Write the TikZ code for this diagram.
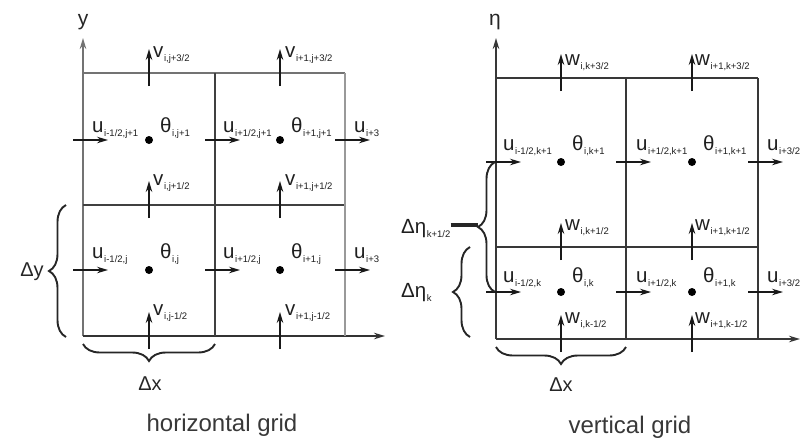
\documentclass[tikz,border=0pt]{standalone}
\usepackage{fontspec}
\setmainfont{Liberation Sans}
\usetikzlibrary{arrows.meta,decorations.pathreplacing}
\newcommand{\sv}[2]{#1\kern0.6pt\raisebox{-4pt}{\fontsize{9.5}{9.5}\selectfont #2}}
\newcommand{\hvec}[3]{\coordinate (#1s) at (#2-10,#3); \coordinate (#1e) at (#2+25,#3); \draw[vec] (#1s) -- (#1e);}
\newcommand{\vvec}[3]{\coordinate (#1s) at (#2,#3+13); \coordinate (#1e) at (#2,#3-24); \draw[vec] (#1s) -- (#1e);}
\begin{document}
\begin{tikzpicture}[x=1pt,y=-1pt,
  vec/.style={-{Stealth[length=11pt,width=6.5pt]}, line width=1.3pt, draw=black!90},
  axisL/.style={-{Stealth[length=11pt,width=6.5pt]}, line width=2.4pt, draw=black!55},
  outerL/.style={line width=2.6pt, draw=black!55},
  innerL/.style={line width=1.8pt, draw=black!75},
  thinL/.style={line width=1.1pt, draw=black!40},
  bottomL/.style={-{Stealth[length=11pt,width=6.5pt]}, line width=1.8pt, draw=black!80},
  gridR/.style={line width=2.2pt, draw=black!78},
  axisR/.style={-{Stealth[length=11pt,width=6.5pt]}, line width=2.2pt, draw=black!78},
  lab/.style={font=\fontsize{20.5}{20.5}\selectfont, inner sep=0pt, anchor=base west, text=black!88},
  dot/.style={circle, fill=black, inner sep=0pt, minimum size=8pt},
  brace/.style={decorate, decoration={brace, amplitude=17pt}, line width=1.9pt, draw=black!85},
  captext/.style={font=\fontsize{24}{24}\selectfont, text=black!78, inner sep=0pt}
]
\useasboundingbox (0,0) rectangle (800,440);

% ================= horizontal grid =================
\coordinate (LA) at (83,336);
\coordinate (LYt) at (83,38);
\coordinate (LXr) at (385,336);
\coordinate (LT1) at (83,73);
\coordinate (LT2) at (215,73);
\coordinate (LT3) at (345,73);
\coordinate (LM1) at (83,205);
\coordinate (LM3) at (345,205);
\coordinate (LB2) at (215,336);
\coordinate (LB3) at (345,336);

\draw[axisL] (LA) -- (LYt);
\draw[bottomL] (LA) -- (LXr);
\draw[outerL] (LT1) -- (LT3);
\draw[innerL] (LM1) -- (LM3);
\draw[innerL] (LT2) -- (LB2);
\draw[thinL] (LT3) -- (LB3);
\node[font=\fontsize{21}{21}\selectfont, text=black!85] (ylab) at (83,22) {y};

% u vectors
\hvec{lu11}{83}{140}
\hvec{lu21}{215}{140}
\hvec{lu31}{345}{140}
\hvec{lu10}{83}{270}
\hvec{lu20}{215}{270}
\hvec{lu30}{345}{270}
% v vectors
\vvec{lv13}{149}{73}
\vvec{lv23}{280}{73}
\vvec{lv12}{149}{205}
\vvec{lv22}{280}{205}
\vvec{lv11}{149}{336}
\vvec{lv21}{280}{336}
% theta dots
\node[dot] (ld11) at (149,140) {};
\node[dot] (ld21) at (280,140) {};
\node[dot] (ld10) at (149,270) {};
\node[dot] (ld20) at (280,270) {};

% labels
\node[lab] (tlu11) at (92,132) {\sv{u}{i-1/2,j+1}};
\node[lab] (tlu21) at (223,132) {\sv{u}{i+1/2,j+1}};
\node[lab] (tlu31) at (354,132) {\sv{u}{i+3}};
\node[lab] (tlu10) at (92,258) {\sv{u}{i-1/2,j}};
\node[lab] (tlu20) at (223,258) {\sv{u}{i+1/2,j}};
\node[lab] (tlu30) at (354,258) {\sv{u}{i+3}};
\node[lab] (tlt11) at (160,132) {\sv{θ}{i,j+1}};
\node[lab] (tlt21) at (291,132) {\sv{θ}{i+1,j+1}};
\node[lab] (tlt10) at (160,258) {\sv{θ}{i,j}};
\node[lab] (tlt20) at (291,258) {\sv{θ}{i+1,j}};
\node[lab] (tlv13) at (153,57) {\sv{v}{i,j+3/2}};
\node[lab] (tlv23) at (285,57) {\sv{v}{i+1,j+3/2}};
\node[lab] (tlv12) at (153,185) {\sv{v}{i,j+1/2}};
\node[lab] (tlv22) at (285,185) {\sv{v}{i+1,j+1/2}};
\node[lab] (tlv11) at (153,315) {\sv{v}{i,j-1/2}};
\node[lab] (tlv21) at (285,315) {\sv{v}{i+1,j-1/2}};

% braces
\coordinate (bLy1) at (66,337);
\coordinate (bLy2) at (66,205);
\draw[brace] (bLy1) -- (bLy2);
\node[font=\fontsize{20}{20}\selectfont, text=black!85] (dy) at (32,272) {Δy};
\coordinate (bLx1) at (215,344);
\coordinate (bLx2) at (83,344);
\draw[brace] (bLx1) -- (bLx2);
\node[font=\fontsize{20}{20}\selectfont, text=black!85] (dxl) at (150,384) {Δx};
\node[captext] (capL) at (222,425) {horizontal grid};

% ================= vertical grid =================
\coordinate (RA) at (496,339);
\coordinate (RYt) at (496,38);
\coordinate (RXr) at (800,339);
\coordinate (RT1) at (496,78);
\coordinate (RT2) at (626,78);
\coordinate (RT3) at (758,78);
\coordinate (RM1) at (496,247);
\coordinate (RM3) at (758,247);
\coordinate (RB2) at (626,339);
\coordinate (RB3) at (758,339);

\draw[axisR] (RA) -- (RYt);
\draw[axisR] (RA) -- (RXr);
\draw[gridR] (RT1) -- (RT3);
\draw[gridR] (RM1) -- (RM3);
\draw[gridR] (RT2) -- (RB2);
\draw[gridR] (RT3) -- (RB3);
\node[font=\fontsize{21}{21}\selectfont, text=black!85] (etalab) at (495,22) {η};

\hvec{ru11}{496}{162}
\hvec{ru21}{626}{162}
\hvec{ru31}{758}{162}
\hvec{ru10}{496}{292}
\hvec{ru20}{626}{292}
\hvec{ru30}{758}{292}
\vvec{rw13}{561}{78}
\vvec{rw23}{692}{78}
\vvec{rw12}{561}{247}
\vvec{rw22}{692}{247}
\vvec{rw11}{561}{339}
\vvec{rw21}{692}{339}
\node[dot] (rd11) at (561,162) {};
\node[dot] (rd21) at (692,162) {};
\node[dot] (rd10) at (561,292) {};
\node[dot] (rd20) at (692,292) {};

\node[lab] (tru11) at (503,150) {\sv{u}{i-1/2,k+1}};
\node[lab] (tru21) at (636,150) {\sv{u}{i+1/2,k+1}};
\node[lab] (tru31) at (767,150) {\sv{u}{i+3/2}};
\node[lab] (tru10) at (503,282) {\sv{u}{i-1/2,k}};
\node[lab] (tru20) at (636,282) {\sv{u}{i+1/2,k}};
\node[lab] (tru30) at (767,282) {\sv{u}{i+3/2}};
\node[lab] (trt11) at (572,150) {\sv{θ}{i,k+1}};
\node[lab] (trt21) at (703,150) {\sv{θ}{i+1,k+1}};
\node[lab] (trt10) at (572,282) {\sv{θ}{i,k}};
\node[lab] (trt20) at (703,282) {\sv{θ}{i+1,k}};
\node[lab] (trw13) at (565,65) {\sv{w}{i,k+3/2}};
\node[lab] (trw23) at (695,65) {\sv{w}{i+1,k+3/2}};
\node[lab] (trw12) at (565,230) {\sv{w}{i,k+1/2}};
\node[lab] (trw22) at (695,230) {\sv{w}{i+1,k+1/2}};
\node[lab] (trw11) at (565,323) {\sv{w}{i,k-1/2}};
\node[lab] (trw21) at (695,323) {\sv{w}{i+1,k-1/2}};

% braces
\coordinate (bRe1) at (495,292);
\coordinate (bRe2) at (495,162);
\draw[brace] (bRe1) -- (bRe2);
\coordinate (bRk1) at (470,337);
\coordinate (bRk2) at (470,247);
\draw[brace] (bRk1) -- (bRk2);
\node[lab] (deta1) at (401,233) {\sv{Δη}{k+1/2}};
\coordinate (etaline) at (478,225);
\draw[line width=3.2pt, draw=black!85] (deta1.east |- etaline) -- (etaline);
\node[lab] (deta0) at (401,297) {\sv{Δη}{k}};
\coordinate (bRx1) at (626,347);
\coordinate (bRx2) at (496,347);
\draw[brace] (bRx1) -- (bRx2);
\node[font=\fontsize{20}{20}\selectfont, text=black!85] (dxr) at (561,385) {Δx};
\node[captext] (capR) at (630,427) {vertical grid};
\end{tikzpicture}
\end{document}
